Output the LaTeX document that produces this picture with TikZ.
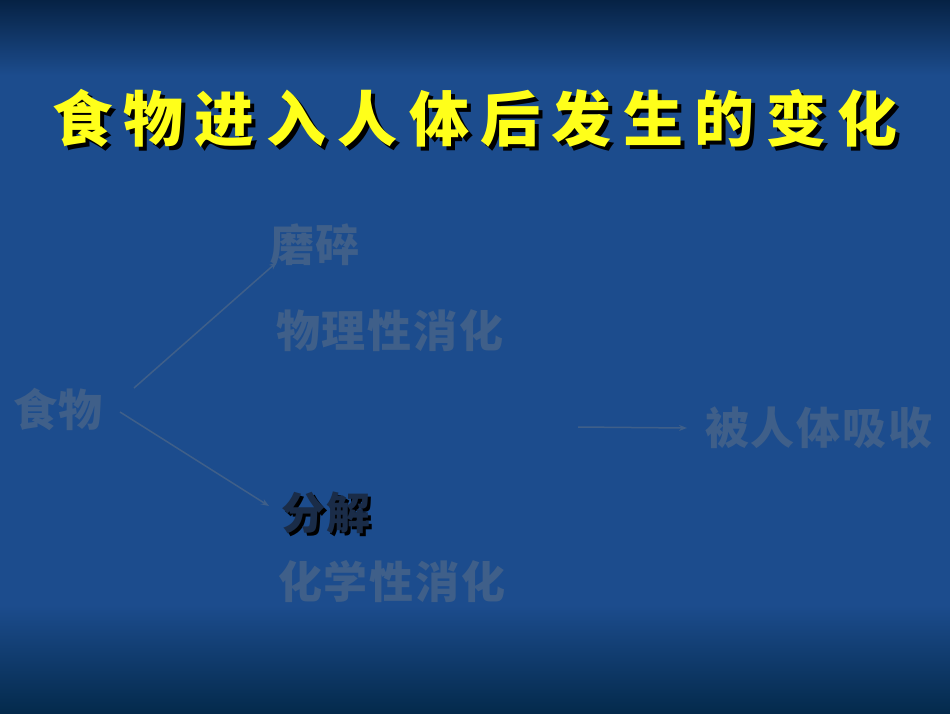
\documentclass[tikz,border=0pt]{standalone}
\usepackage{fontspec}
\usepackage{tikz}
\usetikzlibrary{positioning,arrows.meta}
\newfontfamily\cjk{Noto Sans CJK SC}
\definecolor{bgtop}{HTML}{062244}
\definecolor{bgmid}{HTML}{1C4C8D}
\definecolor{bgbot}{HTML}{042A4C}
\definecolor{faint}{HTML}{3F5F89}
\definecolor{darktext}{HTML}{1A2C48}
\definecolor{titleyellow}{HTML}{FFFF1A}

\tikzset{
    labelfont/.style={font=\cjk\bfseries\fontsize{44}{48}\selectfont\addfontfeature{LetterSpace=4}},
    faintlabel/.style={inner sep=0pt, anchor=west, text=faint, labelfont},
    titlefont/.style={inner sep=0pt, anchor=west,
        font=\cjk\bfseries\fontsize{60}{64}\selectfont\addfontfeature{LetterSpace=19}},
    arrowline/.style={draw=faint, line width=1.5pt, -{Stealth[length=8pt,width=6pt]}}
}

\begin{document}
\begin{tikzpicture}[x=1pt,y=-1pt]
    % background
    \useasboundingbox (0,0) rectangle (950,713);
    \fill[bgmid] (0,0) rectangle (950,713);
    \shade[top color=bgtop, bottom color=bgmid] (0,0) rectangle (950,75);
    \shade[top color=bgmid, bottom color=bgbot] (0,605) rectangle (950,713);

    % title with shadow
    \node[titlefont, text=black] at (56,122) {食物进入人体后发生的变化};
    \node[titlefont, text=titleyellow] (title) at (52,118) {食物进入人体后发生的变化};

    % labels
    \node[faintlabel] (food) at (13,409) {食物};
    \node[faintlabel] (grind) at (270,245) {磨碎};
    \node[faintlabel] (physical) at (276,331) {物理性消化};
    \node[inner sep=0pt, anchor=west, text=black, labelfont] at (284,516) {分解};
    \node[inner sep=0pt, anchor=west, text=darktext, labelfont] (split) at (281,513) {分解};
    \node[faintlabel] (chemical) at (278,582) {化学性消化};
    \node[faintlabel] (absorbed) at (705,428) {被人体吸收};

    % arrows
    \coordinate (absstart) at (578,427);
    \draw[arrowline] ([shift={(134-13,388-409)}]food.west) -- ([shift={(277-270,262-245)}]grind.west);
    \draw[arrowline] ([shift={(120-13,412-409)}]food.west) -- ([shift={(269-281,506-513)}]split.west);
    \draw[arrowline] (absstart) -- ([xshift=-18pt]absorbed.west);
\end{tikzpicture}
\end{document}
